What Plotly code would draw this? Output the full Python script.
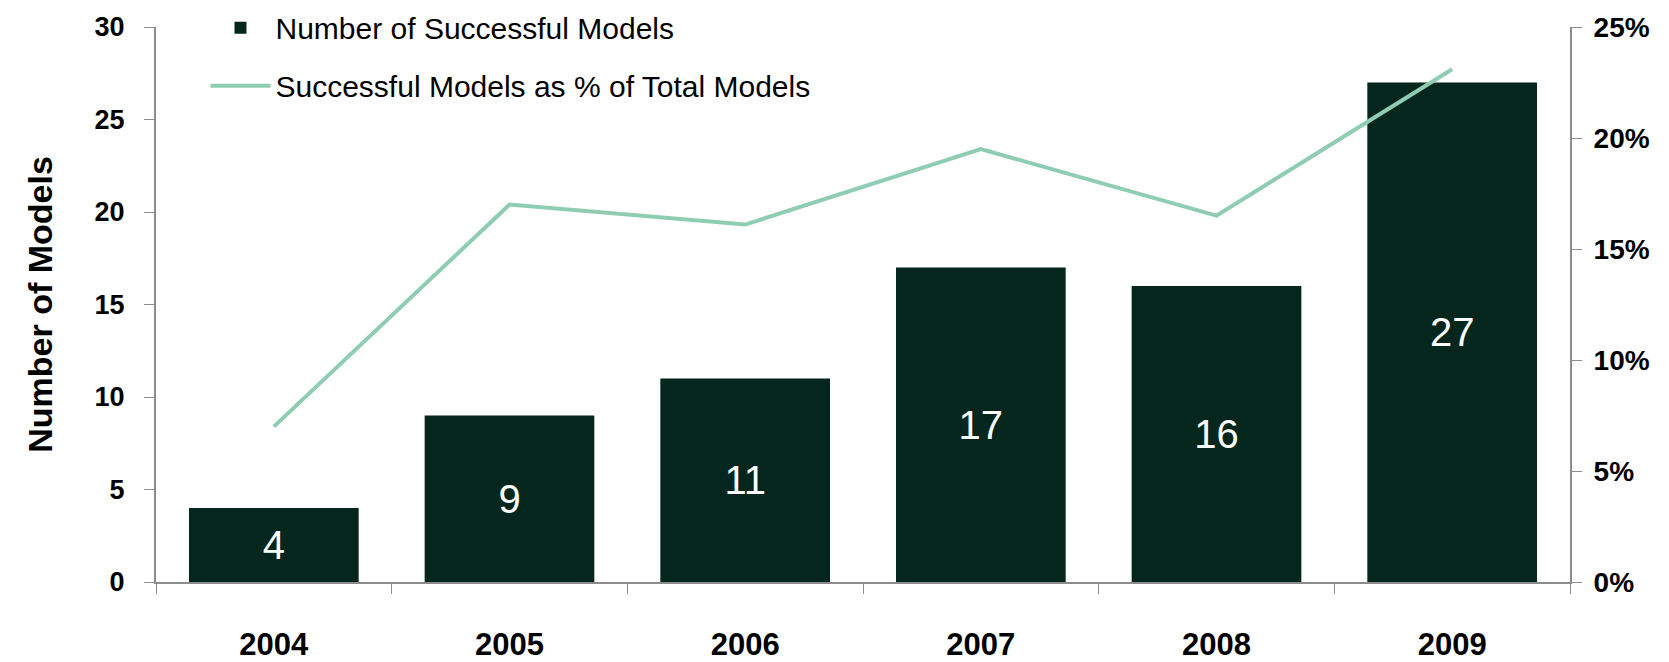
import plotly.graph_objects as go

years = ["2004", "2005", "2006", "2007", "2008", "2009"]
num_models = [4, 9, 11, 17, 16, 27]
pct_total = [7.0, 17.0, 16.1, 19.5, 16.5, 23.1]
y_ticks = [0, 5, 10, 15, 20, 25, 30]
y2_ticks = [0, 5, 10, 15, 20, 25]
y2_labels = ["0%", "5%", "10%", "15%", "20%", "25%"]

bar_color = "#05261D"
line_color = "#8FCDB3"
axis_color = "#8C8C8C"
font_family = "Liberation Sans, Arial, sans-serif"

fig = go.Figure()
fig.add_trace(go.Bar(
    x=years, y=num_models, name="Number of Successful Models",
    marker=dict(color=bar_color, line=dict(width=0)),
    text=[str(v) for v in num_models], textposition="inside",
    insidetextanchor="middle",
    textfont=dict(color="white", size=40, family=font_family),
    legendgroup="a", yaxis="y",
))
fig.add_trace(go.Scatter(
    x=years, y=pct_total, name="Successful Models as % of Total Models",
    mode="lines", line=dict(color=line_color, width=4),
    legendgroup="b", yaxis="y2",
))

dom_top = 1 - 15 / 570

fig.update_layout(
    width=1669, height=662,
    margin=dict(l=156, r=99, t=12, b=80, autoexpand=False),
    paper_bgcolor="white", plot_bgcolor="white",
    bargap=0.28,
    font=dict(family=font_family, color="black"),
    showlegend=True,
    legend=dict(
        x=0.035, y=1.018, xanchor="left", yanchor="top",
        bgcolor="rgba(0,0,0,0)",
        font=dict(size=30, family=font_family, color="black"),
        tracegroupgap=16, itemwidth=60,
        traceorder="grouped",
    ),
    xaxis=dict(
        showline=True, linecolor=axis_color, linewidth=2,
        ticks="outside", tickson="boundaries", ticklen=10, tickcolor=axis_color,
        ticklabelstandoff=34,
        tickfont=dict(size=31, family=font_family, color="black", weight="bold"),
        showgrid=False, zeroline=False,
    ),
    yaxis=dict(
        range=[0, 30], tickvals=y_ticks, domain=[0, dom_top],
        showline=True, linecolor=axis_color, linewidth=2,
        ticks="outside", ticklen=10, tickcolor=axis_color,
        ticklabelstandoff=14,
        tickfont=dict(size=27, family=font_family, color="black", weight="bold"),
        showgrid=False, zeroline=False,
        title=dict(text="Number of Models", standoff=32,
                   font=dict(size=34, family=font_family, color="black", weight="bold")),
    ),
    yaxis2=dict(
        range=[0, 25], tickvals=y2_ticks, ticktext=y2_labels,
        overlaying="y", side="right",
        showline=True, linecolor=axis_color, linewidth=2,
        ticks="outside", ticklen=10, tickcolor=axis_color,
        ticklabelstandoff=6,
        tickfont=dict(size=28, family=font_family, color="black", weight="bold"),
        showgrid=False, zeroline=False,
    ),
)

fig.write_html("out.html")
